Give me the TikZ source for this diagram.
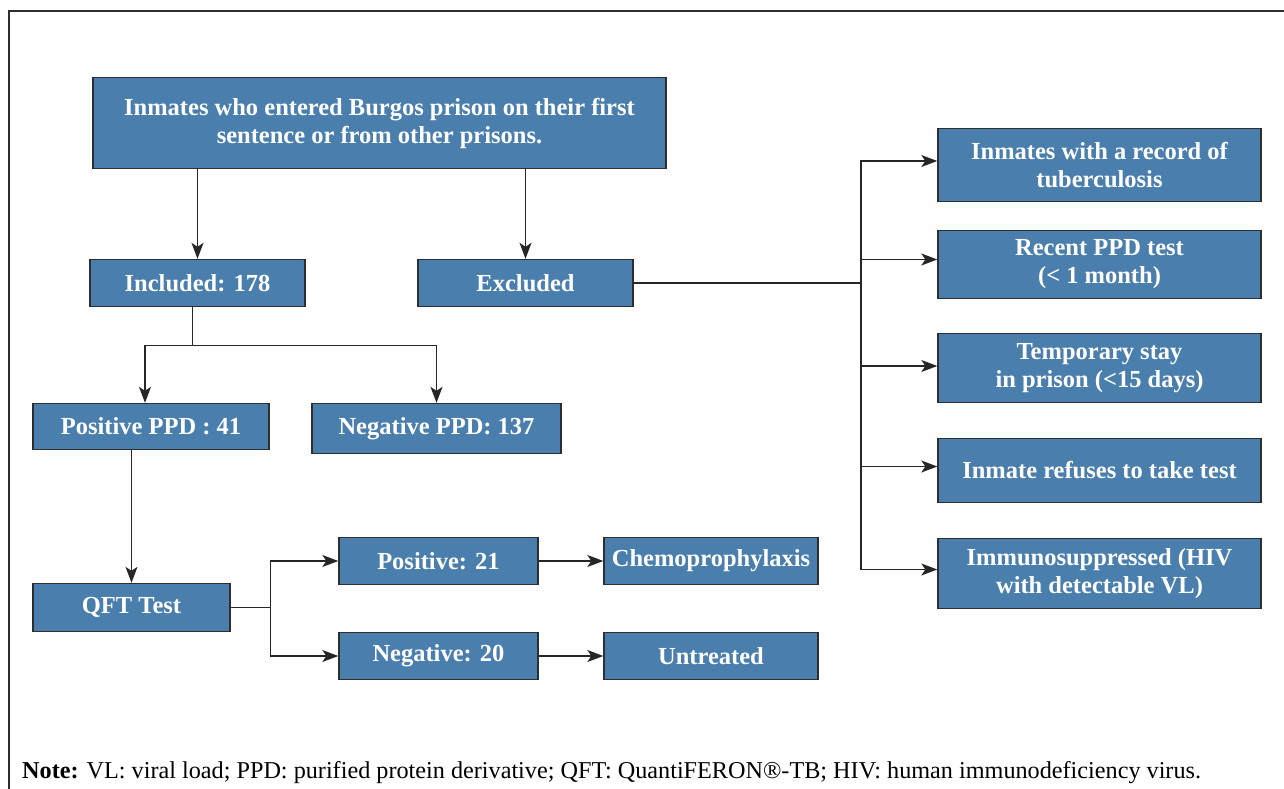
\documentclass[tikz,border=0pt]{standalone}
\usepackage{fontspec}
\setmainfont{Liberation Serif}
\usetikzlibrary{arrows.meta,calc}
\definecolor{boxblue}{HTML}{4A7EAD}
\definecolor{edge}{HTML}{2E2E2E}
\begin{document}
\begin{tikzpicture}[x=1pt,y=-1pt,
  box/.style={draw=edge, line width=1.4pt, fill=boxblue, text=white, inner sep=0pt,
    font=\fontsize{24.5}{28}\selectfont\bfseries, align=center},
  conn/.style={draw=black!85, line width=1.4pt},
  arr/.style={conn, -{Stealth[length=16pt,width=12pt,inset=4pt]}}]
\useasboundingbox (0,0) rectangle (1284,789);
\draw[edge, line width=1.8pt] (9,789) -- (9,11) -- (1284,11);
\newcommand{\bx}[6]{\node[box, minimum width={#4-#2}, minimum height={#5-#3}] (#1) at ({(#2+#4)/2},{(#3+#5)/2+1.5}) {#6};}
\bx{top}{93}{76}{666}{167}{Inmates who entered Burgos prison on their first\\sentence or from other prisons.}
\bx{inc}{90}{258}{305}{305}{Included: 178}
\bx{exc}{418}{258}{633}{305}{Excluded}
\bx{pos}{33}{402}{269}{448}{Positive PPD : 41}
\bx{neg}{312}{402}{561}{452}{Negative PPD: 137}
\bx{qft}{33}{582}{230}{630}{QFT Test}
\bx{p21}{339}{536}{538}{583}{Positive: 21}
\bx{n20}{339}{631}{538}{678}{Negative: 20}
\bx{chemo}{604}{536}{818}{583}{Chemoprophylaxis}
\bx{untr}{604}{631}{818}{678}{Untreated}
\bx{r1}{938}{127}{1261}{200}{Inmates with a record of\\tuberculosis}
\bx{r2}{938}{229}{1261}{297}{Recent PPD test\\(< 1 month)}
\bx{r3}{938}{332}{1261}{401}{Temporary stay\\in prison (<15 days)}
\bx{r4}{938}{437}{1261}{501}{Inmate refuses to take test}
\bx{r5}{938}{537}{1261}{607}{Immunosuppressed (HIV\\with detectable VL)}
% connectors
\draw[arr] (top.south -| inc.north) -- (inc.north);
\draw[arr] (top.south -| exc.north) -- (exc.north);
\draw[conn] ([xshift=-5pt]inc.south) -- ++(0,38) coordinate (j1);
\draw[arr] (j1) -| ([xshift=-6pt]pos.north);
\draw[arr] (j1) -| (neg.north);
\draw[arr] (pos.south -| qft.north) -- (qft.north);
\draw[conn] (qft.east) -- ++(40,0) coordinate (j2);
\draw[arr] (j2) |- (p21.west);
\draw[arr] (j2) |- (n20.west);
\draw[arr] (p21.east) -- (chemo.west);
\draw[arr] (n20.east) -- (untr.west);
\draw[conn] (exc.east) -- (exc.east -| 861,0) coordinate (j3);
\foreach \r/\d in {r1/4,r2/5,r3/2,r4/4,r5/4}
  \draw[arr] (j3) |- ([yshift=\d pt]\r.west);
\node[anchor=base west, inner sep=0pt, font=\fontsize{24.2}{28}\selectfont] (note) at (22,778)
  {\textbf{Note:} VL: viral load; PPD: purified protein derivative; QFT: QuantiFERON®-TB; HIV: human immunodeficiency virus.};
\end{tikzpicture}
\end{document}
